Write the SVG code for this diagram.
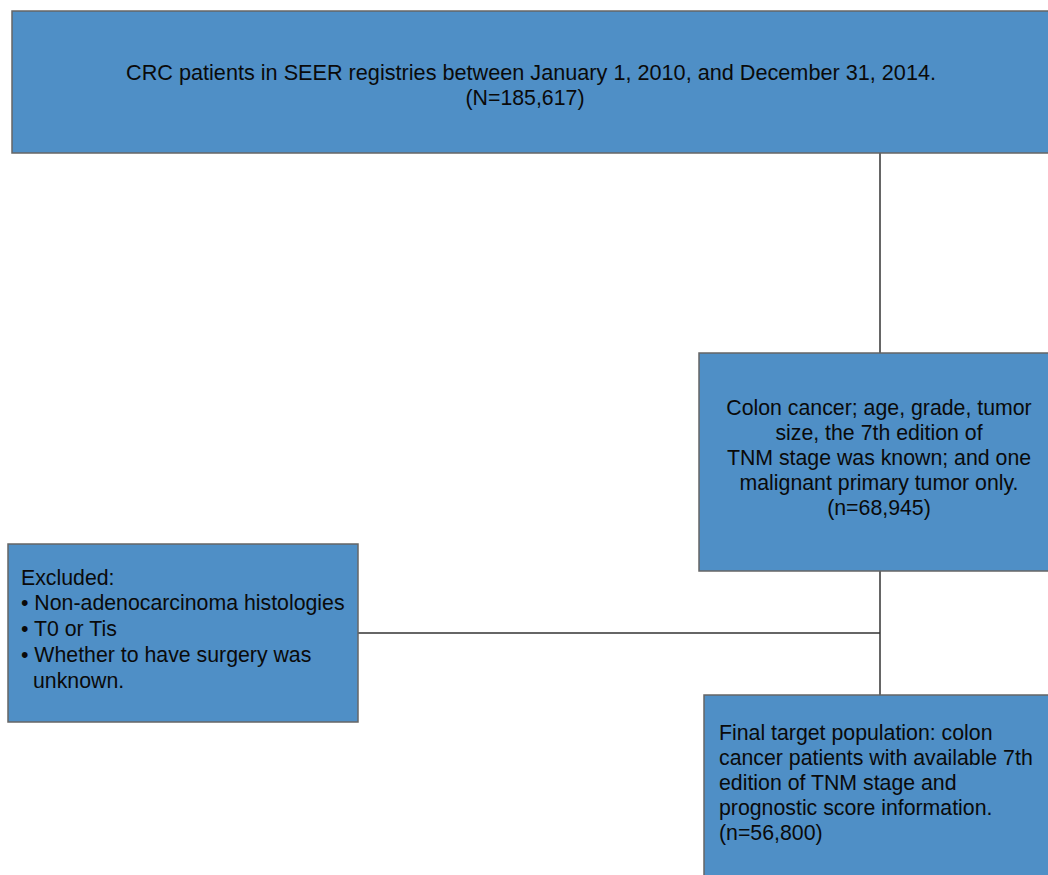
<svg xmlns="http://www.w3.org/2000/svg" width="1048" height="875" viewBox="0 0 1048 875">
<style>
.box{fill:#4f8fc6;stroke:#666;stroke-width:1.5}
.t{font-family:"Liberation Sans",Arial,sans-serif;font-size:21.3px;fill:#0a0a0a}
.c{text-anchor:middle}
.ln{stroke:#333;stroke-width:1.5;fill:none}
</style>
<rect width="1048" height="875" fill="#fff"/>
<g id="connectors">
<line class="ln" x1="880" y1="153" x2="880" y2="353"/>
<line class="ln" x1="880" y1="571" x2="880" y2="695"/>
<line class="ln" x1="358" y1="633" x2="880" y2="633"/>
</g>
<g id="n1">
<rect class="box" x="12" y="11" width="1045" height="142"/>
<text class="t c" x="531" y="80" textLength="810" lengthAdjust="spacingAndGlyphs">CRC patients in SEER registries between January 1, 2010, and December 31, 2014.</text>
<text class="t c" x="525" y="105">(N=185,617)</text>
</g>
<g id="n2">
<rect class="box" x="699" y="353" width="360" height="218"/>
<text class="t c" x="879" y="415">Colon cancer; age, grade, tumor</text>
<text class="t c" x="879" y="440">size, the 7th edition of</text>
<text class="t c" x="879" y="465">TNM stage was known; and one</text>
<text class="t c" x="879" y="490">malignant primary tumor only.</text>
<text class="t c" x="879" y="515">(n=68,945)</text>
</g>
<g id="n3">
<rect class="box" x="8" y="544" width="350" height="178"/>
<text class="t" x="21" y="585">Excluded:</text>
<text class="t" x="21" y="610">• Non-adenocarcinoma histologies</text>
<text class="t" x="21" y="636">• T0 or Tis</text>
<text class="t" x="21" y="662">• Whether to have surgery was</text>
<text class="t" x="33" y="688">unknown.</text>
</g>
<g id="n4">
<rect class="box" x="704" y="695" width="360" height="200"/>
<text class="t" x="719" y="740">Final target population: colon</text>
<text class="t" x="719" y="765">cancer patients with available 7th</text>
<text class="t" x="719" y="790">edition of TNM stage and</text>
<text class="t" x="719" y="815">prognostic score information.</text>
<text class="t" x="719" y="840">(n=56,800)</text>
</g>
</svg>
